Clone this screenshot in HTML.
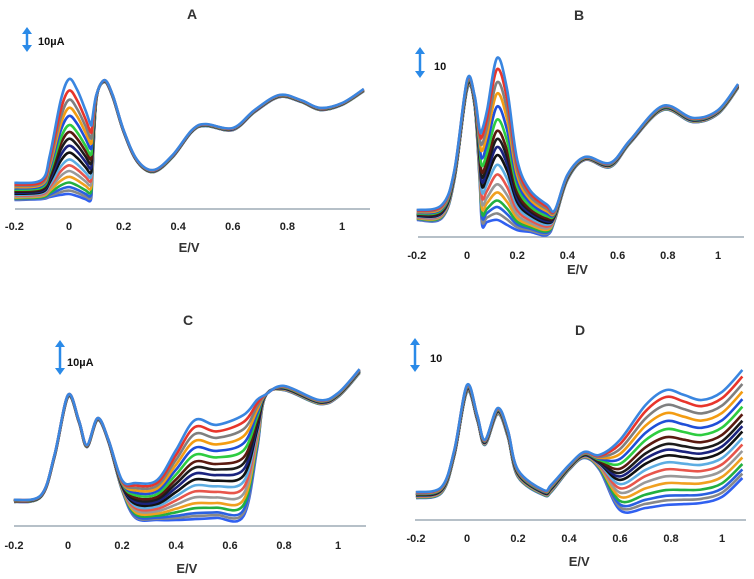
<!DOCTYPE html>
<html><head><meta charset="utf-8"><style>
html,body{margin:0;padding:0;background:#fff;}
svg{display:block;font-family:"Liberation Sans",Arial,sans-serif;}
</style></head><body>
<svg id="fig" width="754" height="579" viewBox="0 0 754 579"></svg>
<script>
const palette = ["#3a86e0","#e8352b","#7f7f7f","#f39c12","#1f4fd8","#2ecc40","#5a1a10","#1c1c1c","#1a237e","#111","#5dade2","#e8554b","#999","#f0a020","#22b040","#2a60e0","#888","#3060f0"];
const ampsA = [1,0.9,0.82,0.75,0.68,0.6,0.54,0.48,0.42,0.36,0.3,0.25,0.2,0.15,0.1,0.06,0.03,0];
const ampsB = [1,0.93,0.85,0.78,0.7,0.62,0.55,0.5,0.45,0.4,0.34,0.28,0.22,0.17,0.12,0.08,0.04,0];
const ampsC = [1,0.93,0.86,0.79,0.72,0.65,0.58,0.52,0.46,0.4,0.34,0.28,0.22,0.16,0.11,0.06,0.03,0];
const ampsD = [1,0.94,0.87,0.8,0.73,0.66,0.59,0.53,0.48,0.43,0.37,0.31,0.25,0.19,0.13,0.08,0.04,0];

const potA = [-0.2,-0.1,-0.07,-0.03,0,0.03,0.06,0.08,0.085,0.1,0.13,0.16,0.2,0.25,0.31,0.38,0.45,0.5,0.6,0.68,0.77,0.85,0.92,1.0,1.08];
const topA = [8.7,9.7,18,36.3,43.3,39.7,33,28,29.7,38,43,38,26.3,16.3,13,18,26.3,28.3,27,33,38,36.3,33.7,35.3,40];
const botA = [3,3.3,4,4.7,5,4.3,3.3,3,9.7,36.3,42.3,37.3,25.7,15.7,12.3,17.3,25.7,27.7,26.3,32.3,37.3,35.7,33,34.7,39.3];

const potB = [-0.2,-0.1,-0.05,0,0.03,0.05,0.06,0.08,0.12,0.16,0.2,0.25,0.32,0.35,0.4,0.47,0.57,0.65,0.78,0.9,1.0,1.08];
const topB = [9,10.7,22.3,52.3,47.3,35.7,35.7,42.3,59.7,49,25.7,15.7,10.7,9,20.7,26.7,24.7,32.3,43.7,39.7,42.3,51];
const botB = [5.7,6.3,19,49,44,19,4,5,5.7,4,2.3,1.7,0.7,5.7,19,25.7,23.3,31.3,42.3,38.3,41,49.7];

const potC = [-0.2,-0.1,-0.05,0,0.04,0.07,0.11,0.15,0.2,0.25,0.33,0.4,0.47,0.55,0.65,0.7,0.73,0.8,0.93,1.0,1.08];
const topC = [8.7,10.3,23.7,43.7,35.3,27,36,28.7,15.3,14.3,15.3,25.3,35.3,33.7,37,42,43.7,46.7,42,44.3,52.3];
const botC = [8,9.7,23,43,34.7,26.3,35.3,28,12,2.7,2,2,2.3,2.7,3.3,25.3,43,45.3,40.7,43,51];

const potD = [-0.2,-0.1,-0.05,0,0.04,0.07,0.12,0.16,0.2,0.3,0.33,0.4,0.46,0.52,0.6,0.7,0.78,0.85,0.92,1.0,1.08];
const topD = [9.3,11,23.3,45,35,26.7,37.3,30,16.7,10,11.7,18.3,22.7,21.7,26.7,38.3,43.3,41.7,40,42.7,50];
const botD = [7.3,9,21.3,42.7,33.3,25,35.3,27.7,14.3,8.3,9.3,16.7,20.7,16.7,3.3,4,5,5.3,5.7,7.7,14];

const ticks = [-0.2,0,0.2,0.4,0.6,0.8,1];
const tickLabels = ["-0.2","0","0.2","0.4","0.6","0.8","1"];

const panels = [
 {id:"a",title:"A",x0:69,xs:273,axisY:209,xl:15,xr:370,tickY:230,evY:252,titleX:192,titleY:19,arX:27,arY1:27,arY2:52,scale:"10µA",scX:38,scY:45,pot:potA,top:topA,bot:botA,amps:ampsA},
 {id:"b",title:"B",x0:467,xs:251,axisY:237,xl:418,xr:744,tickY:259,evY:274,titleX:579,titleY:20,arX:420,arY1:47,arY2:78,scale:"10",scX:434,scY:70,pot:potB,top:topB,bot:botB,amps:ampsB},
 {id:"c",title:"C",x0:68,xs:270,axisY:526,xl:14,xr:366,tickY:549,evY:573,titleX:188,titleY:325,arX:60,arY1:340,arY2:375,scale:"10µA",scX:67,scY:366,pot:potC,top:topC,bot:botC,amps:ampsC},
 {id:"d",title:"D",x0:467,xs:255,axisY:520,xl:415,xr:746,tickY:542,evY:566,titleX:580,titleY:335,arX:415,arY1:338,arY2:372,scale:"10",scX:430,scY:362,pot:potD,top:topD,bot:botD,amps:ampsD}
];
const NS="http://www.w3.org/2000/svg";
const svg=document.getElementById("fig");
function mk(tag,attrs,parent){const e=document.createElementNS(NS,tag);for(const k in attrs)e.setAttribute(k,attrs[k]);parent.appendChild(e);return e;}
function smooth(pts){let d="M"+pts[0][0].toFixed(1)+","+pts[0][1].toFixed(1);
 for(let i=0;i<pts.length-1;i++){const p0=pts[Math.max(0,i-1)],p1=pts[i],p2=pts[i+1],p3=pts[Math.min(pts.length-1,i+2)];
  const c1=[p1[0]+(p2[0]-p0[0])/6,p1[1]+(p2[1]-p0[1])/6],c2=[p2[0]-(p3[0]-p1[0])/6,p2[1]-(p3[1]-p1[1])/6];
  d+=" C"+c1[0].toFixed(1)+","+c1[1].toFixed(1)+" "+c2[0].toFixed(1)+","+c2[1].toFixed(1)+" "+p2[0].toFixed(1)+","+p2[1].toFixed(1);}
 return d;}
panels.forEach(p=>{
 const g=mk("g",{},svg);
 
 
 const X=v=>p.x0+v*p.xs, Y=c=>p.axisY-c*3;
 const t=mk("text",{x:p.titleX,y:p.titleY,"font-size":"14","font-weight":"bold","fill":"#333","text-anchor":"middle"},g);
 t.textContent=p.title;
 
 
 const ar=mk("g",{},g);
 
 
 mk("line",{x1:p.arX,y1:p.arY1+5,x2:p.arX,y2:p.arY2-5,stroke:"#2a8ae8","stroke-width":"2.5"},ar);
 mk("polygon",{points:`${p.arX-5},${p.arY1+7} ${p.arX},${p.arY1} ${p.arX+5},${p.arY1+7}`,fill:"#2a8ae8"},ar);
 mk("polygon",{points:`${p.arX-5},${p.arY2-7} ${p.arX},${p.arY2} ${p.arX+5},${p.arY2-7}`,fill:"#2a8ae8"},ar);
 const sl=mk("text",{x:p.scX,y:p.scY,"font-size":"11","font-weight":"bold",fill:"#111"},g);
 sl.textContent=p.scale;
 
 
 const ax=mk("line",{x1:p.xl,y1:p.axisY,x2:p.xr,y2:p.axisY,stroke:"#8a9aa8","stroke-width":"1.3"},g);
 
 
 ticks.forEach((v,i)=>{const tx=mk("text",{x:X(v),y:p.tickY,"font-size":"11","font-weight":"bold",fill:"#222","text-anchor":"middle"},g);
  tx.textContent=tickLabels[i];
  
  });
 const ev=mk("text",{x:X(0.44),y:p.evY,"font-size":"13","font-weight":"bold",fill:"#333","text-anchor":"middle"},g);
 ev.textContent="E/V";
 
 
 for(let k=p.amps.length-1;k>=0;k--){const a=p.amps[k];
  const pts=p.pot.map((v,i)=>[X(v),Y(p.bot[i]+a*(p.top[i]-p.bot[i]))]);
  const path=mk("path",{d:smooth(pts),fill:"none",stroke:palette[k%palette.length],"stroke-width":"2.6","stroke-linejoin":"round"},g);
  
  }
});
</script>
</body></html>
